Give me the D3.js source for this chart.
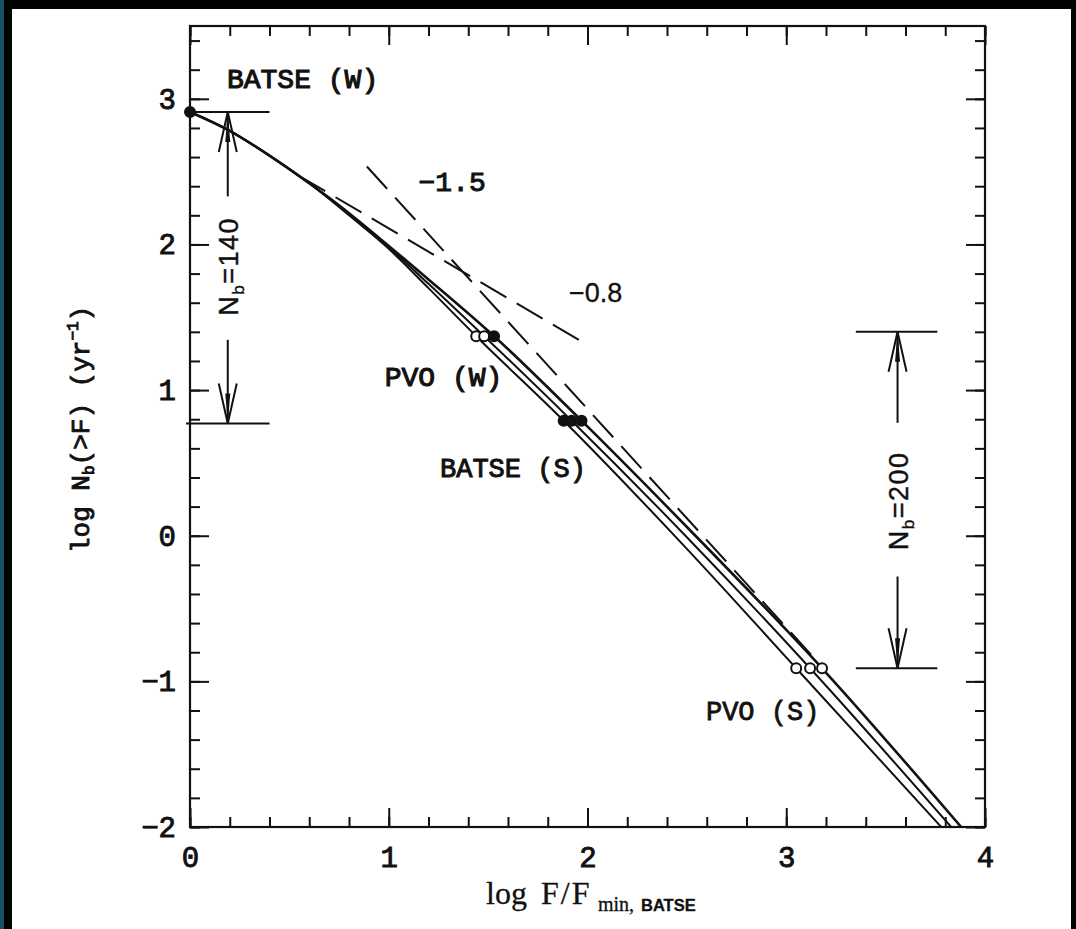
<!DOCTYPE html>
<html>
<head>
<meta charset="utf-8">
<script src="https://cdn.jsdelivr.net/npm/d3@7"></script>
<style>
    html, body { margin: 0; padding: 0; background: #000; overflow: hidden; }
    svg { display: block; }
</style>
</head>
<body>
<div id="container"></div>
<script>

// ---- values (log F/F_min,BATSE vs log N_b(>F)) ----

// three model curves, nearly on top of each other at the bright end
const curveAX = [0, 0.2, 0.4, 0.6, 0.8, 1.0, 1.2, 1.44, 1.88, 2.5, 3.05, 3.78];
const curveAY = [2.91, 2.78, 2.61, 2.42, 2.20, 1.97, 1.70, 1.37, 0.79, -0.09, -0.91, -2.0];

const curveBX = [0, 0.2, 0.4, 0.6, 0.8, 1.0, 1.2, 1.48, 1.92, 2.5, 3.12, 3.83];
const curveBY = [2.91, 2.78, 2.61, 2.42, 2.21, 1.98, 1.73, 1.37, 0.79, -0.01, -0.91, -2.0];

const curveCX = [0, 0.2, 0.4, 0.6, 0.72, 1.0, 1.2, 1.53, 1.97, 2.5, 3.18, 3.88];
const curveCY = [2.91, 2.78, 2.61, 2.42, 2.30, 1.99, 1.76, 1.37, 0.79, 0.06, -0.91, -2.0];

// reference power laws (dashed)
const slope15X = [0.89, 3.17];
const slope15Y = [2.535, -0.885];
const slope08X = [0.55, 2.0];
const slope08Y = [2.47, 1.31];

// threshold points on the curves
const batseWX = [0];
const batseWY = [2.91];
const pvoWX = [1.44, 1.48, 1.53];
const pvoWY = [1.37, 1.37, 1.37];
const pvoWFilled = [false, false, true];
const batseSX = [1.88, 1.92, 1.97];
const batseSY = [0.79, 0.79, 0.79];
const pvoSX = [3.05, 3.12, 3.18];
const pvoSY = [-0.91, -0.91, -0.91];

// axis ticks
const xMajorTicks = [0, 1, 2, 3, 4];
const yMajorTicks = [-2, -1, 0, 1, 2, 3];
const xMinorTicks = d3.range(0, 4.001, 0.2);
const yMinorTicks = d3.range(-2, 3.401, 0.2);

// ---- chart ----
const width = 1076;
const height = 929;
const ink = "#111";

const monoFont = "'Liberation Mono', 'Courier New', monospace";
const sansFont = "'Liberation Sans', Arial, sans-serif";
const serifFont = "'Liberation Serif', 'Times New Roman', serif";

const x = d3.scaleLinear().domain([0, 4]).range([190, 985]);
const y = d3.scaleLinear().domain([-2, 3.5]).range([827, 26]);

const svg = d3.select("#container").append("svg")
    .attr("width", width)
    .attr("height", height);

// scanned page: teal edge, black border, white paper
svg.append("rect").attr("width", width).attr("height", height).attr("fill", "#020303");
svg.append("rect").attr("width", 4).attr("height", height).attr("fill", "#1b5068");
svg.append("rect").attr("x", 12).attr("y", 9).attr("width", 1059).attr("height", height - 9).attr("fill", "#fff");

// typewriter text is thin, the scan thickens it: add a light outline
function inked(sel, w) {
    return sel.attr("fill", ink).attr("stroke", ink).attr("stroke-width", w);
}

function styleAxis(g) {
    g.select(".domain").remove();
    g.selectAll("line").attr("stroke", ink).attr("stroke-width", 2);
    g.selectAll("text")
        .attr("font-family", monoFont)
        .attr("font-size", 29)
        .call(inked, 0.9);
}

// minor ticks on all four sides (pointing inward)
svg.append("g").attr("transform", `translate(0,${y(-2)})`)
    .call(d3.axisBottom(x).tickValues(xMinorTicks).tickSize(-10).tickFormat(""))
    .call(styleAxis);
svg.append("g").attr("transform", `translate(0,${y(3.5)})`)
    .call(d3.axisTop(x).tickValues(xMinorTicks).tickSize(-10).tickFormat(""))
    .call(styleAxis);
svg.append("g").attr("transform", `translate(${x(0)},0)`)
    .call(d3.axisLeft(y).tickValues(yMinorTicks).tickSize(-10).tickFormat(""))
    .call(styleAxis);
svg.append("g").attr("transform", `translate(${x(4)},0)`)
    .call(d3.axisRight(y).tickValues(yMinorTicks).tickSize(-10).tickFormat(""))
    .call(styleAxis);

// major ticks + labels
svg.append("g").attr("transform", `translate(0,${y(-2)})`)
    .call(d3.axisBottom(x).tickValues(xMajorTicks).tickSize(-19).tickPadding(19).tickFormat(d3.format("d")))
    .call(styleAxis);
svg.append("g").attr("transform", `translate(0,${y(3.5)})`)
    .call(d3.axisTop(x).tickValues(xMajorTicks).tickSize(-19).tickFormat(""))
    .call(styleAxis);
svg.append("g").attr("transform", `translate(${x(0)},0)`)
    .call(d3.axisLeft(y).tickValues(yMajorTicks).tickSize(-19).tickPadding(14).tickFormat(d3.format("d")))
    .call(styleAxis);
svg.append("g").attr("transform", `translate(${x(4)},0)`)
    .call(d3.axisRight(y).tickValues(yMajorTicks).tickSize(-19).tickFormat(""))
    .call(styleAxis);

// frame
svg.append("rect")
    .attr("x", x(0))
    .attr("y", y(3.5))
    .attr("width", x(4) - x(0))
    .attr("height", y(-2) - y(3.5))
    .attr("fill", "none")
    .attr("stroke", ink)
    .attr("stroke-width", 2.2);

// model curves
const line = d3.line()
    .x(d => x(d[0]))
    .y(d => y(d[1]))
    .curve(d3.curveMonotoneX);

[[curveAX, curveAY, 2], [curveBX, curveBY, 2], [curveCX, curveCY, 2.6]].forEach(([cx, cy, w]) => {
    svg.append("path")
        .datum(d3.zip(cx, cy))
        .attr("fill", "none")
        .attr("stroke", ink)
        .attr("stroke-width", w)
        .attr("d", line);
});

// dashed reference slopes
[[slope15X, slope15Y], [slope08X, slope08Y]].forEach(([lx, ly]) => {
    svg.append("path")
        .datum(d3.zip(lx, ly))
        .attr("fill", "none")
        .attr("stroke", ink)
        .attr("stroke-width", 2)
        .attr("stroke-dasharray", "30,12")
        .attr("d", d3.line().x(d => x(d[0])).y(d => y(d[1])));
});

// threshold markers
function drawPoints(px, py, filled) {
    svg.append("g").selectAll("circle")
        .data(d3.zip(px, py, filled))
        .join("circle")
        .attr("cx", d => x(d[0]))
        .attr("cy", d => y(d[1]))
        .attr("r", 5)
        .attr("fill", d => d[2] ? ink : "#fff")
        .attr("stroke", ink)
        .attr("stroke-width", 2);
}
drawPoints(batseWX, batseWY, [true]);
drawPoints(pvoWX, pvoWY, pvoWFilled);
drawPoints(batseSX, batseSY, [true, true, true]);
drawPoints(pvoSX, pvoSY, [false, false, false]);

// N_b brackets: two horizontal bars, arrows pointing out to them, rotated label
function drawArrow(ax, yFrom, yTo) {
    const px = x(ax);
    const y0 = y(yFrom);
    const y1 = y(yTo);
    const dir = y1 < y0 ? 1 : -1;
    svg.append("line")
        .attr("x1", px).attr("x2", px)
        .attr("y1", y0).attr("y2", y1)
        .attr("stroke", ink).attr("stroke-width", 2);
    svg.append("path")
        .attr("d", `M${px - 9},${y1 + dir * 40} L${px},${y1} L${px + 9},${y1 + dir * 40}`)
        .attr("fill", "none")
        .attr("stroke", ink)
        .attr("stroke-width", 2);
    svg.append("path")
        .attr("d", `M${px - 2.5},${y1 + dir * 30} L${px},${y1} L${px + 2.5},${y1 + dir * 30}Z`)
        .attr("fill", ink);
}

function drawBracket(x0, x1, yTop, yBottom, ax, gapTop, gapBottom, labelY, value) {
    [yTop, yBottom].forEach(v => {
        svg.append("line")
            .attr("x1", x(x0)).attr("x2", x(x1))
            .attr("y1", y(v)).attr("y2", y(v))
            .attr("stroke", ink).attr("stroke-width", 2);
    });
    drawArrow(ax, gapTop, yTop);
    drawArrow(ax, gapBottom, yBottom);
    const t = svg.append("text")
        .attr("transform", `translate(${x(ax) + 10},${y(labelY)}) rotate(-90)`)
        .attr("text-anchor", "middle")
        .attr("font-family", sansFont)
        .attr("font-size", 27)
        .attr("letter-spacing", 1.5)
        .call(inked, 0.4);
    t.append("tspan").text("N");
    t.append("tspan").attr("font-size", 17).attr("dy", 6).text("b");
    t.append("tspan").attr("dy", -6).text("=" + value);
}
drawBracket(-0.02, 0.40, 2.91, 0.77, 0.19, 2.33, 1.345, 1.85, 140);
drawBracket(3.35, 3.76, 1.40, -0.91, 3.56, 0.775, -0.28, 0.24, 200);

// point labels
function label(txt, lx, ly, font, size, w) {
    svg.append("text")
        .attr("x", x(lx))
        .attr("y", y(ly))
        .attr("font-family", font)
        .attr("font-size", size)
        .call(inked, w)
        .style("white-space", "pre")
        .text(txt);
}
label("BATSE (W)", 0.186, 3.077, monoFont, 28, 1.1);
label("PVO (W)", 0.98, 1.03, monoFont, 28, 1.1);
label("BATSE (S)", 1.258, 0.405, monoFont, 27, 1.0);
label("PVO (S)", 2.596, -1.264, monoFont, 27, 0.8);
label("\u22121.5", 1.15, 2.37, monoFont, 28, 1.0);
label("\u22120.8", 1.907, 1.607, sansFont, 27, 0.3);

// y axis title
const yTitle = svg.append("text")
    .attr("transform", `translate(89,${y(0.73)}) rotate(-90)`)
    .attr("text-anchor", "middle")
    .attr("font-family", monoFont)
    .attr("font-size", 26)
    .call(inked, 0.9)
    .style("white-space", "pre");
yTitle.append("tspan").text("log N");
yTitle.append("tspan").attr("font-size", 16).attr("dy", 5).text("b");
yTitle.append("tspan").attr("dy", -5).text("(>F) (yr");
yTitle.append("tspan").attr("font-size", 16).attr("dy", -11).text("\u22121");
yTitle.append("tspan").attr("dy", 11).text(")");

// x axis title
const xTitle = svg.append("text")
    .attr("y", 904)
    .attr("font-family", serifFont)
    .attr("font-size", 32)
    .call(inked, 0.3)
    .style("white-space", "pre");
xTitle.append("tspan").attr("x", 486).text("log");
xTitle.append("tspan").attr("x", 541).attr("letter-spacing", 2).text("F/F");
xTitle.append("tspan").attr("x", 598).attr("font-size", 20).attr("dy", 7).text("min,");
xTitle.append("tspan").attr("x", 641).attr("font-family", sansFont).attr("font-weight", "bold")
    .attr("font-size", 16.5).text("BATSE");

</script>
</body>
</html>
